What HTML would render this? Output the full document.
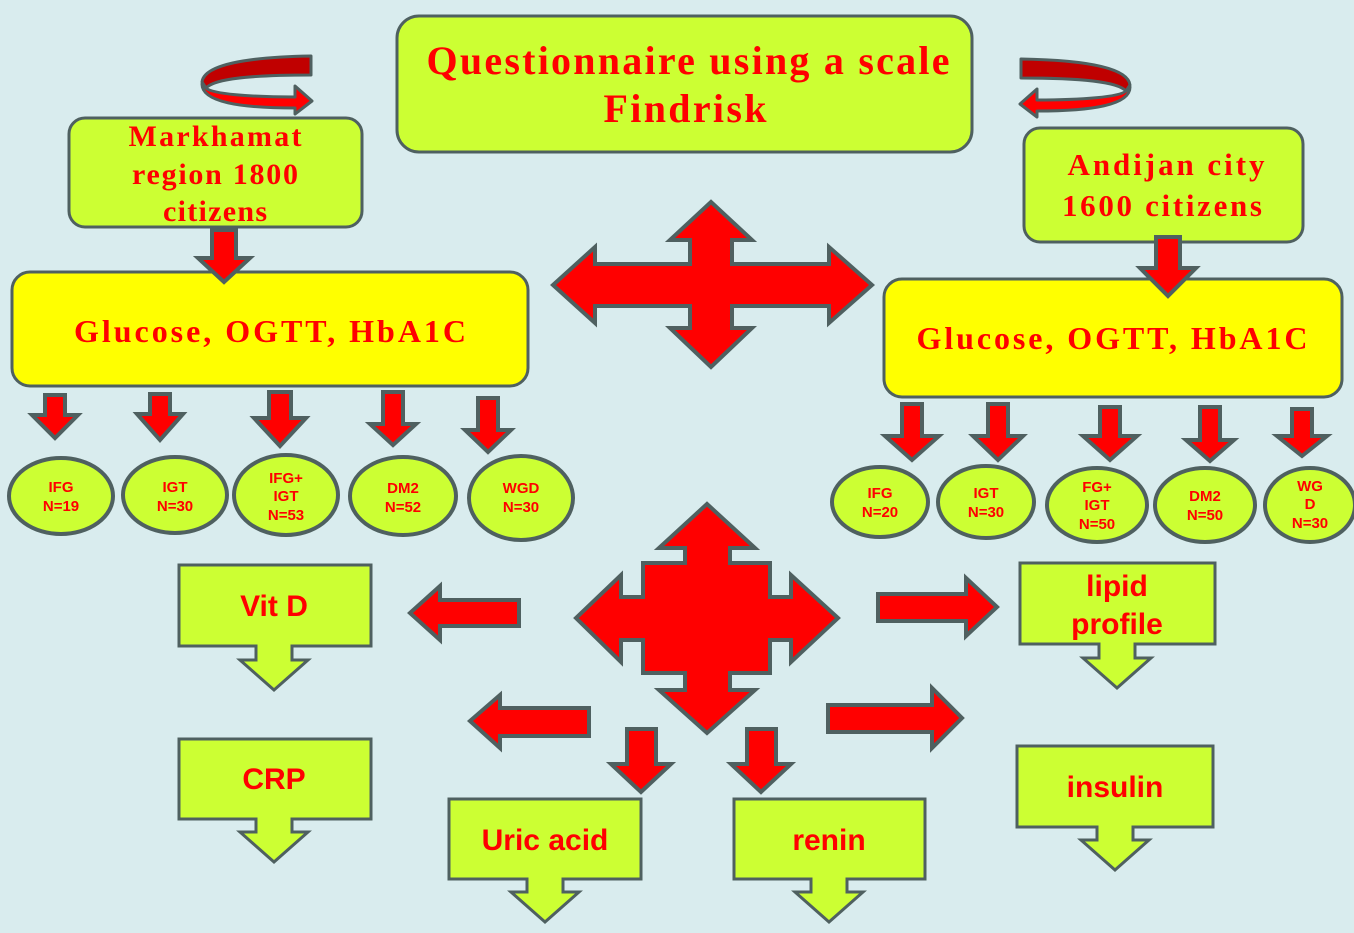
<!DOCTYPE html>
<html><head><meta charset="utf-8"><style>
html,body{margin:0;padding:0;background:#d9ecee;}
svg{display:block}
.s{font-family:"Liberation Serif",serif;font-weight:bold;fill:#ff0000;text-anchor:middle}
.a{font-family:"Liberation Sans",sans-serif;font-weight:bold;fill:#ff0000;text-anchor:middle}
</style></head><body>
<svg width="1354" height="933" viewBox="0 0 1354 933" xmlns="http://www.w3.org/2000/svg">
<rect width="1354" height="933" fill="#d9ecee"/>
<g stroke="#4f6060" stroke-width="3">
<rect x="397" y="16" width="575" height="136" rx="22" fill="#ccff33"/>
<rect x="69" y="118" width="293" height="109" rx="16" fill="#ccff33"/>
<rect x="1024" y="128" width="279" height="114" rx="16" fill="#ccff33"/>
<rect x="12" y="272" width="516" height="114" rx="18" fill="#ffff00"/>
<rect x="884" y="279" width="458" height="118" rx="18" fill="#ffff00"/>
</g>
<g fill="#ff0000" stroke="#4f6060" stroke-width="4" stroke-linejoin="miter">
<polygon points="212,230 236,230 236,258 250,258 224,282 198,258 212,258"/>
<polygon points="1156,237 1180,237 1180,268 1196,268 1168,296 1140,268 1156,268"/>
<polygon points="711,202 752,240 732,240 732,264 829,264 829,247 872,285 829,323 829,306 732,306 732,328 752,328 711,367 670,328 690,328 690,306 595,306 595,323 553,285 595,247 595,264 690,264 690,240 670,240"/>
<polygon points="45,395 65,395 65,415 78,415 55,438 32,415 45,415"/>
<polygon points="150,394 170,394 170,414 183,414 160,440 137,414 150,414"/>
<polygon points="269,392 291,392 291,418 306,418 280,446 254,418 269,418"/>
<polygon points="383,392 403,392 403,424 416,424 393,445 370,424 383,424"/>
<polygon points="478,398 498,398 498,430 511,430 488,452 465,430 478,430"/>
<polygon points="902,404 922,404 922,436 939,436 912,460 885,436 902,436"/>
<polygon points="988,404 1008,404 1008,436 1023,436 998,460 973,436 988,436"/>
<polygon points="1100,407 1120,407 1120,436 1137,436 1110,460 1083,436 1100,436"/>
<polygon points="1200,407 1220,407 1220,440 1234,440 1210,461 1186,440 1200,440"/>
<polygon points="1292,409 1312,409 1312,436 1327,436 1302,456 1277,436 1292,436"/>
<polygon points="707,504 755,548 730,548 730,563 770,563 770,597 791,597 791,575 838,618 791,662 791,640 770,640 770,673 730,673 730,690 755,690 707,733 659,690 685,690 685,673 643,673 643,640 621,640 621,662 576,618 621,575 621,597 643,597 643,563 685,563 685,548 659,548"/>
<polygon points="410,613 440,586 440,600 519,600 519,626 440,626 440,640"/>
<polygon points="470,721 500,695 500,708 589,708 589,736 500,736 500,748"/>
<polygon points="997,607 966,578 966,594 878,594 878,621 966,621 966,636"/>
<polygon points="962,718 932,688 932,705 828,705 828,732 932,732 932,748"/>
<polygon points="627,729 656,729 656,764 671,764 641,792 611,764 627,764"/>
<polygon points="747,729 776,729 776,764 791,764 761,792 731,764 747,764"/>
</g>
<g stroke="#4f6060" stroke-width="3" stroke-linejoin="round">
<g id="curl">
<path d="M311,56 L311,75 C255,75 215,78 206,88 L202,82 C204,64 250,57 311,56 z" fill="#c00000"/>
<path d="M206,88 C212,94 250,97 295,97 L295,86 L312,101 L295,114 L295,108 C240,108 202,102 202,84 z" fill="#ff0000"/>
</g>
<use href="#curl" transform="translate(1332,3) scale(-1,1)"/>
</g>
<g fill="#ccff33" stroke="#4f6060" stroke-width="4">
<ellipse cx="61" cy="496" rx="52" ry="38"/>
<ellipse cx="175" cy="495" rx="52" ry="38"/>
<ellipse cx="286" cy="495" rx="52" ry="40"/>
<ellipse cx="403" cy="496" rx="53" ry="39"/>
<ellipse cx="521" cy="498" rx="52" ry="42"/>
<ellipse cx="880" cy="502" rx="48" ry="35"/>
<ellipse cx="986" cy="502" rx="48" ry="36"/>
<ellipse cx="1097" cy="505" rx="50" ry="37"/>
<ellipse cx="1205" cy="505" rx="50" ry="37"/>
<ellipse cx="1310" cy="505" rx="45" ry="37"/>
</g>
<g fill="#ccff33" stroke="#4f6060" stroke-width="3">
<polygon points="179,565 371,565 371,646 292,646 292,660 308,660 274,690 240,660 256,660 256,646 179,646"/>
<polygon points="179,739 371,739 371,819 292,819 292,832 308,832 274,862 240,832 256,832 256,819 179,819"/>
<polygon points="449,799 641,799 641,879 563,879 563,892 579,892 545,922 511,892 527,892 527,879 449,879"/>
<polygon points="734,799 925,799 925,879 847,879 847,892 863,892 829,922 795,892 811,892 811,879 734,879"/>
<polygon points="1020,563 1215,563 1215,644 1135,644 1135,658 1151,658 1117,688 1083,658 1099,658 1099,644 1020,644"/>
<polygon points="1017,746 1213,746 1213,827 1133,827 1133,840 1149,840 1115,870 1081,840 1097,840 1097,827 1017,827"/>
</g>
<text class="s" x="688" y="74" font-size="40" textLength="523" lengthAdjust="spacing">Questionnaire using a scale</text>
<text class="s" x="685" y="122" font-size="40" textLength="163" lengthAdjust="spacing">Findrisk</text>
<text class="s" x="215" y="146" font-size="30" textLength="173" lengthAdjust="spacing">Markhamat</text>
<text class="s" x="215" y="184" font-size="30" textLength="166" lengthAdjust="spacing">region 1800</text>
<text class="s" x="215" y="221" font-size="30" textLength="104" lengthAdjust="spacing">citizens</text>
<text class="s" x="1166" y="175" font-size="31" textLength="197" lengthAdjust="spacing">Andijan city</text>
<text class="s" x="1162" y="216" font-size="31" textLength="200" lengthAdjust="spacing">1600 citizens</text>
<text class="s" x="270" y="342" font-size="32" textLength="392" lengthAdjust="spacing">Glucose, OGTT, HbA1C</text>
<text class="s" x="1112" y="349" font-size="32" textLength="391" lengthAdjust="spacing">Glucose, OGTT, HbA1C</text>
<g font-size="15">
<text class="a" x="61" y="492">IFG</text><text class="a" x="61" y="511">N=19</text>
<text class="a" x="175" y="492">IGT</text><text class="a" x="175" y="511">N=30</text>
<text class="a" x="286" y="483">IFG+</text><text class="a" x="286" y="501">IGT</text><text class="a" x="286" y="520">N=53</text>
<text class="a" x="403" y="493">DM2</text><text class="a" x="403" y="512">N=52</text>
<text class="a" x="521" y="493">WGD</text><text class="a" x="521" y="512">N=30</text>
<text class="a" x="880" y="498">IFG</text><text class="a" x="880" y="517">N=20</text>
<text class="a" x="986" y="498">IGT</text><text class="a" x="986" y="517">N=30</text>
<text class="a" x="1097" y="492">FG+</text><text class="a" x="1097" y="510">IGT</text><text class="a" x="1097" y="529">N=50</text>
<text class="a" x="1205" y="501">DM2</text><text class="a" x="1205" y="520">N=50</text>
<text class="a" x="1310" y="491">WG</text><text class="a" x="1310" y="509">D</text><text class="a" x="1310" y="528">N=30</text>
</g>
<g font-size="30">
<text class="a" x="274" y="616">Vit D</text>
<text class="a" x="274" y="789">CRP</text>
<text class="a" x="545" y="850">Uric acid</text>
<text class="a" x="829" y="850">renin</text>
<text class="a" x="1117" y="596">lipid</text>
<text class="a" x="1117" y="634">profile</text>
<text class="a" x="1115" y="797">insulin</text>
</g>
</svg>
</body></html>
